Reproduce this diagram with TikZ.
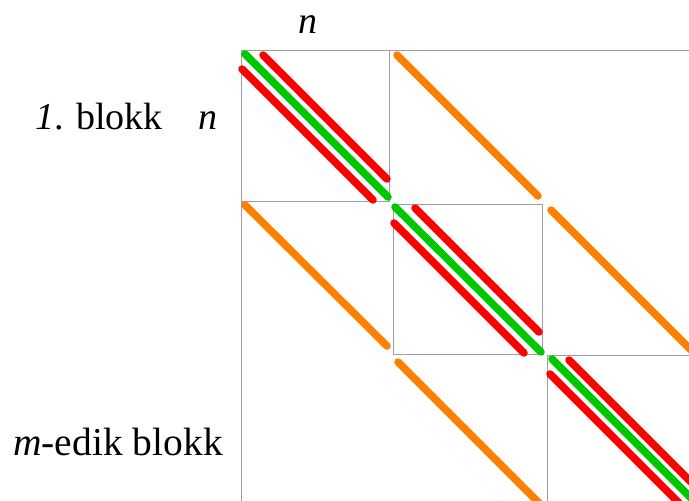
\documentclass[tikz,border=0pt]{standalone}
\usepackage{fontspec}
\setmainfont{Liberation Serif}
\begin{document}
\begin{tikzpicture}[x=1pt,y=-1pt,
  gridline/.style={draw=black!38,line width=0.9pt},
  band/.style={line width=7.5pt,line cap=round},
  diag/.style={band,draw={rgb,255:red,0;green,200;blue,0}},
  offd/.style={band,draw={rgb,255:red,255;green,0;blue,0}},
  far/.style={band,draw={rgb,255:red,255;green,128;blue,0}},
  lbl/.style={inner sep=0pt,anchor=base west,font=\fontsize{38}{40}\selectfont}]
\useasboundingbox (0,0) rectangle (689,501);
\begin{scope}
\clip (0,0) rectangle (689,501);
% frame and diagonal blocks
\draw[gridline] (241,50) -- (700,50);
\draw[gridline] (241,50) -- (241,510);
\draw[gridline] (241,50) rectangle (389,201);
\draw[gridline] (393,204) rectangle (542,354);
\draw[gridline] (547,355) rectangle (710,520);
% orange bands
\draw[far] (397,55) -- (538,196);
\draw[far] (551,210) -- (700,359);
\draw[far] (245,205) -- (387,346);
\draw[far] (398,362) -- (545,509);
% red bands
\draw[offd] (263,55) -- (387,179);
\draw[offd] (415,208) -- (539,332);
\draw[offd] (569,360) -- (715,506);
\draw[offd] (242,69) -- (373,200);
\draw[offd] (394,223) -- (524,353);
\draw[offd] (550,374) -- (685,509);
% green bands
\draw[diag] (245,54) -- (388,197);
\draw[diag] (395,207) -- (541,352);
\draw[diag] (552,359) -- (705,512);
\end{scope}
% labels
\node[lbl] (ntop) at (298,33) {\itshape n};
\node[lbl] (nleft) at (198,129) {\itshape n};
\node[lbl] (first) at (35,129) {\textit{1}. blokk};
\node[lbl,font=\fontsize{39.5}{41}\selectfont] (last) at (13,455) {\textit{m}-edik blokk};
\end{tikzpicture}
\end{document}
